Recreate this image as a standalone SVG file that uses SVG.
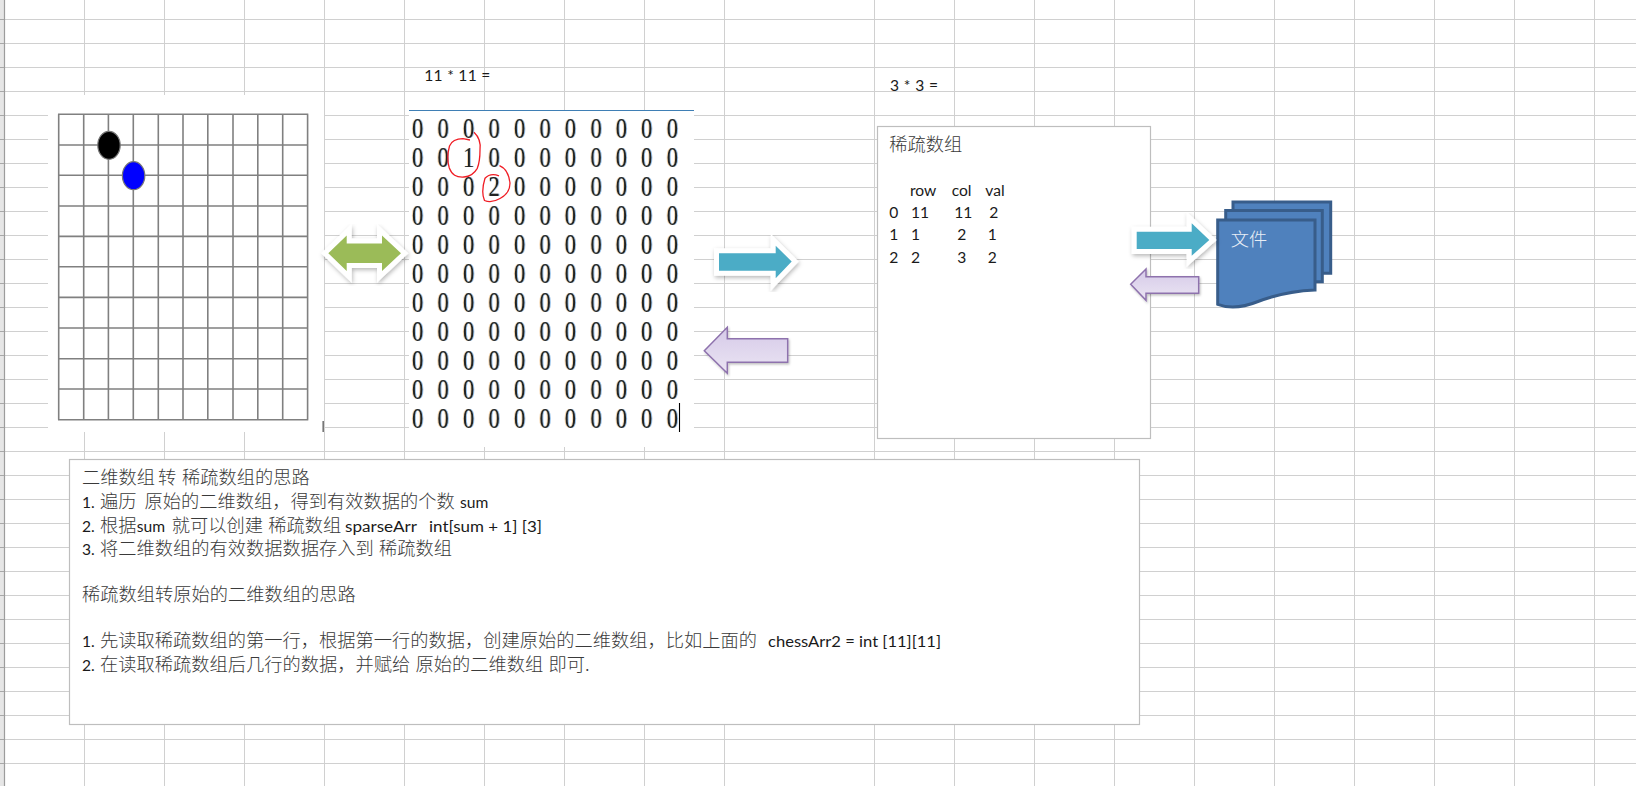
<svg xmlns="http://www.w3.org/2000/svg" width="1636" height="786" viewBox="0 0 1636 786">
<style>
.grid{fill:none;stroke:#d0d0d0;stroke-width:1}
.box{fill:#fff;stroke:#bebebe;stroke-width:1.2}
.t{font-family:"Lato","Carlito","Liberation Sans","Noto Sans CJK SC",sans-serif;font-size:15.6px;fill:#1a1a1a}
.c{font-family:"Noto Sans CJK SC",sans-serif;font-size:18.25px;fill:#3a3a3a;font-weight:300}
.z{font-family:"Liberation Serif",serif;font-size:30px;fill:#222;text-anchor:middle}
.ray{stroke:#fff;stroke-width:10;stroke-miterlimit:4;paint-order:stroke;filter:url(#sh)}
.blue{fill:#4bacc6}
.pur{fill:url(#pg);stroke:#8e72ad;stroke-width:1.5;filter:url(#sh2)}
.sheet{fill:#4f81bd;stroke:#385d8a;stroke-width:3;stroke-linejoin:miter}
.chess{fill:none;stroke:#808080;stroke-width:1.6}
.red{fill:none;stroke:#f01c24;stroke-width:1.3}
</style>
<defs>
<linearGradient id="pg" x1="0" y1="0" x2="0" y2="1"><stop offset="0" stop-color="#d5c9e8"/><stop offset="1" stop-color="#ebe5f3"/></linearGradient>
<filter id="sh" x="-20%" y="-30%" width="140%" height="170%"><feDropShadow dx="1" dy="2" stdDeviation="2.2" flood-color="#000" flood-opacity=".28"/></filter>
<filter id="sh2" x="-20%" y="-30%" width="140%" height="170%"><feDropShadow dx="1" dy="1.5" stdDeviation="1.2" flood-color="#000" flood-opacity=".25"/></filter>
<filter id="fringe" x="-2%" y="-2%" width="104%" height="104%" color-interpolation-filters="sRGB">
<feOffset in="SourceAlpha" dx="-1" result="a"/><feFlood flood-color="#e8a040" flood-opacity=".45"/><feComposite in2="a" operator="in" result="o"/>
<feOffset in="SourceAlpha" dx="1" result="b"/><feFlood flood-color="#2f86d8" flood-opacity=".5"/><feComposite in2="b" operator="in" result="u"/>
<feMerge><feMergeNode in="o"/><feMergeNode in="u"/><feMergeNode in="SourceGraphic"/></feMerge>
</filter>
</defs>
<rect width="1636" height="786" fill="#fff"/>
<g id="sheet-grid">
<path class="grid" d="M4 19.5H1636M4 43.5H1636M4 67.5H1636M4 91.5H1636M4 115.5H1636M4 139.5H1636M4 163.5H1636M4 187.5H1636M4 211.5H1636M4 235.5H1636M4 259.5H1636M4 283.5H1636M4 307.5H1636M4 331.5H1636M4 355.5H1636M4 379.5H1636M4 403.5H1636M4 427.5H1636M4 451.5H1636M4 475.5H1636M4 499.5H1636M4 523.5H1636M4 547.5H1636M4 571.5H1636M4 595.5H1636M4 619.5H1636M4 643.5H1636M4 667.5H1636M4 691.5H1636M4 715.5H1636M4 739.5H1636M4 763.5H1636"/>
<path class="grid" d="M84.5 0V786M164.5 0V786M244.5 0V786M324.5 0V786M404.5 0V786M484.5 0V786M564.5 0V786M644.5 0V786M724.5 0V786M874.5 0V786M954.5 0V786M1034.5 0V786M1114.5 0V786M1194.5 0V786M1274.5 0V786M1354.5 0V786M1434.5 0V786M1514.5 0V786M1594.5 0V786"/>
<rect x="0" y="0" width="4" height="786" fill="#e6e6e6"/>
<path d="M4.5 0V786" stroke="#9c9c9c" stroke-width="1.2" fill="none"/>
<path d="M0 19.5H4M0 43.5H4M0 67.5H4M0 91.5H4M0 115.5H4M0 139.5H4M0 163.5H4M0 187.5H4M0 211.5H4M0 235.5H4M0 259.5H4M0 283.5H4M0 307.5H4M0 331.5H4M0 355.5H4M0 379.5H4M0 403.5H4M0 427.5H4M0 451.5H4M0 475.5H4M0 499.5H4M0 523.5H4M0 547.5H4M0 571.5H4M0 595.5H4M0 619.5H4M0 643.5H4M0 667.5H4M0 691.5H4M0 715.5H4M0 739.5H4M0 763.5H4" stroke="#a8a8a8" fill="none"/>
</g>
<g id="chessboard">
<rect x="48" y="95" width="276" height="337" fill="#fff"/>
<path class="chess" d="M58.7 114.3V419.7M83.7 114.3V419.7M108.4 114.3V419.7M133.3 114.3V419.7M158.3 114.3V419.7M183 114.3V419.7M207.8 114.3V419.7M233 114.3V419.7M257.8 114.3V419.7M282.7 114.3V419.7M307.6 114.3V419.7M58 114.3H308.3M58 145H308.3M58 175.3H308.3M58 206H308.3M58 236.4H308.3M58 266.8H308.3M58 297.4H308.3M58 328H308.3M58 358.7H308.3M58 389H308.3M58 419.7H308.3"/>
<ellipse cx="109" cy="145.3" rx="11.2" ry="14" fill="#000" stroke="#777" stroke-width="1.2"/>
<ellipse cx="133.6" cy="175.7" rx="11.2" ry="14" fill="#0000ff" stroke="#777" stroke-width="1.2"/>
<rect x="322.4" y="421" width="1.6" height="11" fill="#777"/>
</g>
<g id="matrix">
<rect x="409" y="110" width="285" height="337" fill="#fff"/>
<path d="M409 110.5H694" stroke="#3f7fb5" stroke-width="1.2" fill="none"/>
<text class="t" x="424.3" y="81" textLength="66">11 * 11 =</text>
<g filter="url(#fringe)"><g transform="scale(.75 1)">
<text class="z" y="138.4" x="556.9 590.7 624.9 658.7 692.9 726.7 760.4 794.7 828.4 862.3 896.4">00000000000</text>
<text class="z" y="167.3" x="556.9 590.7 624.9 658.7 692.9 726.7 760.4 794.7 828.4 862.3 896.4">00100000000</text>
<text class="z" y="196.3" x="556.9 590.7 624.9 658.7 692.9 726.7 760.4 794.7 828.4 862.3 896.4">00020000000</text>
<text class="z" y="225.2" x="556.9 590.7 624.9 658.7 692.9 726.7 760.4 794.7 828.4 862.3 896.4">00000000000</text>
<text class="z" y="254.2" x="556.9 590.7 624.9 658.7 692.9 726.7 760.4 794.7 828.4 862.3 896.4">00000000000</text>
<text class="z" y="283.1" x="556.9 590.7 624.9 658.7 692.9 726.7 760.4 794.7 828.4 862.3 896.4">00000000000</text>
<text class="z" y="312" x="556.9 590.7 624.9 658.7 692.9 726.7 760.4 794.7 828.4 862.3 896.4">00000000000</text>
<text class="z" y="341" x="556.9 590.7 624.9 658.7 692.9 726.7 760.4 794.7 828.4 862.3 896.4">00000000000</text>
<text class="z" y="369.9" x="556.9 590.7 624.9 658.7 692.9 726.7 760.4 794.7 828.4 862.3 896.4">00000000000</text>
<text class="z" y="398.9" x="556.9 590.7 624.9 658.7 692.9 726.7 760.4 794.7 828.4 862.3 896.4">00000000000</text>
<text class="z" y="427.8" x="556.9 590.7 624.9 658.7 692.9 726.7 760.4 794.7 828.4 862.3 896.4">00000000000</text>
</g></g>
<path d="M679.5 403V432" stroke="#000" stroke-width="1.1"/>
<path class="red" d="M474 132.3C479 137 481 142 480 150C480 158 479 164 477.3 168.3C474 174 470 176.5 464 177C456 177.5 452 175 449.3 168C447.5 162 447 155 449.5 146C452 140 457 138.7 463 138.7L470 140"/>
<path class="red" d="M499.5 165.7C505 168 509 174 510 183C510 190 507 195 500 198.5C494 202 488 202 484.5 200.5C482.5 196 482 188 485 178.3C489 174 494 174 499 175.8"/>
</g>
<g id="label-3x3"><text class="t" x="890" y="91" textLength="48">3 * 3 =</text></g>
<g id="sparse-box">
<rect class="box" x="877.5" y="126.5" width="273" height="312"/>
<text class="c" x="889.3" y="151">稀疏数组</text>
<text class="t" x="910" y="196">row</text><text class="t" x="951.7" y="196">col</text><text class="t" x="985.3" y="196">val</text>
<text class="t" x="889.3" y="218">0</text><text class="t" x="911" y="218">11</text><text class="t" x="954.3" y="218">11</text><text class="t" x="989.3" y="218">2</text>
<text class="t" x="889.3" y="240.3">1</text><text class="t" x="911" y="240.3">1</text><text class="t" x="957.3" y="240.3">2</text><text class="t" x="987.7" y="240.3">1</text>
<text class="t" x="889.3" y="263.3">2</text><text class="t" x="911" y="263.3">2</text><text class="t" x="957.3" y="263.3">3</text><text class="t" x="987.7" y="263.3">2</text>
</g>
<g id="file-stack">
<path class="sheet" d="M1233 202H1330.7V273.3H1233Z"/>
<path class="sheet" d="M1225.7 210.5H1322.3V281.7H1225.7Z"/>
<path class="sheet" d="M1217.7 220H1315V290C1292 291 1275 295 1258 301.5C1243 307.5 1230 309 1217.7 304.3Z"/>
<text class="c" x="1230.7" y="246" style="fill:#e8eef6">文件</text>
</g>
<g id="connectors">
<path class="ray" fill="#9bbb59" d="M328.3 253.3L346.7 235.5V243.5H382V235.5L401 253.3L382 271V263H346.7V271Z"/>
<path class="ray blue" d="M719 253.3H775.7V245.7L791.7 261.5L775.7 278.3V270.7H719Z"/>
<path class="pur" d="M704.3 350.7L727.3 327.3V338.7H787.7V362.3H727.3V373.3Z"/>
<path class="ray blue" d="M1136.7 231.7H1191.7V223.3L1209.3 240L1191.7 255.7V249H1136.7Z"/>
<path class="pur" d="M1130.7 284.3L1146 269V276.7H1198.7V293.3H1146V300.3Z"/>
</g>
<g id="notes">
<rect class="box" x="69.5" y="459.5" width="1070" height="265"/>
<text class="c" x="82" y="483.5">二维数组</text><text class="c" x="158" y="483.5">转</text><text class="c" x="182" y="483.5">稀疏数组的思路</text>
<text class="t" x="82" y="507.5">1.</text><text class="c" x="100" y="507.5">遍历</text><text class="c" x="144.6" y="507.5">原始的二维数组，得到有效数据的个数</text><text class="t" x="460" y="507.5">sum</text>
<text class="t" x="82" y="531.5">2.</text><text class="c" x="100" y="531.5">根据</text><text class="t" x="136.8" y="531.5">sum</text><text class="c" x="171.8" y="531.5">就可以创建</text><text class="c" x="268.2" y="531.5">稀疏数组</text><text class="t" x="345" y="531.5" textLength="72" lengthAdjust="spacingAndGlyphs">sparseArr</text><text class="t" x="429" y="531.5" textLength="113" lengthAdjust="spacingAndGlyphs">int[sum + 1] [3]</text>
<text class="t" x="82" y="555">3.</text><text class="c" x="100" y="555">将二维数组的有效数据数据存入到</text><text class="c" x="379" y="555">稀疏数组</text>
<text class="c" x="82" y="601">稀疏数组转原始的二维数组的思路</text>
<text class="t" x="82" y="647">1.</text><text class="c" x="100" y="647">先读取稀疏数组的第一行，根据第一行的数据，创建原始的二维数组，比如上面的</text><text class="t" x="768" y="647" textLength="173" lengthAdjust="spacingAndGlyphs">chessArr2 = int [11][11]</text>
<text class="t" x="82" y="671">2.</text><text class="c" x="100" y="671">在读取稀疏数组后几行的数据，并赋给</text><text class="c" x="415.4" y="671">原始的二维数组</text><text class="c" x="548.6" y="671">即可.</text>
</g>
</svg>
